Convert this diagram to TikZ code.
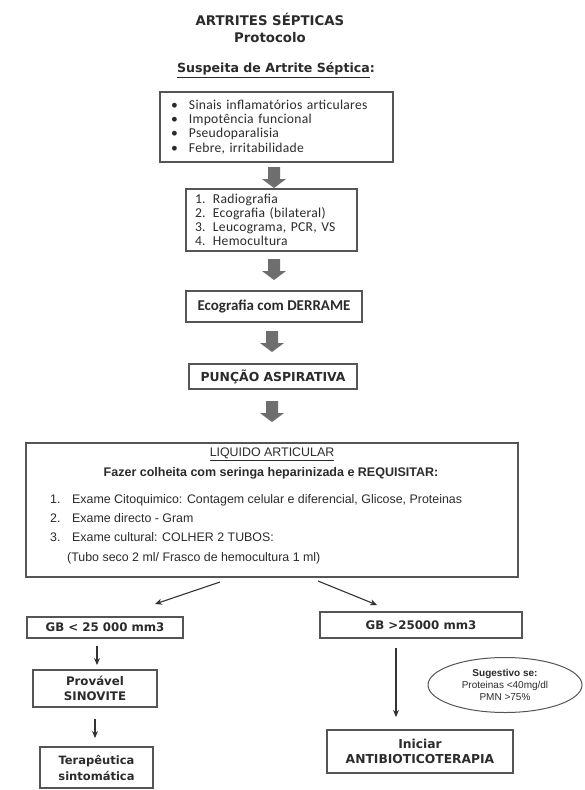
\documentclass[tikz,border=0pt]{standalone}
\usepackage{fontspec}
\setmainfont{DejaVu Sans}
\newfontfamily\verd{DejaVu Sans}
\newfontfamily\calib[LetterSpace=2]{Carlito}
\newfontfamily\calibb{Carlito}
\newfontfamily\arialf{Liberation Sans}
\usetikzlibrary{arrows.meta,shapes.geometric}
\definecolor{txt}{HTML}{2B2B2B}
\definecolor{boxc}{HTML}{555555}
\definecolor{arrc}{HTML}{6E6E6E}
\definecolor{linec}{HTML}{333333}
\tikzset{
 box/.style={draw=boxc, line width=1.3pt, fill=white, text=txt, inner sep=0pt},
 vb/.style={font=\verd\bfseries\fontsize{11.8}{15}\selectfont, align=center, text=txt},
 ar/.style={font=\arialf\fontsize{12.4}{15}\selectfont, text=txt, inner sep=0pt},
 conn/.style={draw=linec, line width=1.1pt, -{Stealth[length=7pt,width=6pt]}},
 blockarrow/.pic={\fill[arrc] (-6,0) -- (6,0) -- (6,12) -- (12,12) -- (0,21) -- (-12,12) -- (-6,12) -- cycle;}
}
\begin{document}
\begin{tikzpicture}[x=1pt,y=-1pt]
\useasboundingbox[fill=white] (0,0) rectangle (584,790);

% titles
\node[font=\verd\bfseries\fontsize{13.3}{17}\selectfont, align=center, text=txt] (title) at (270,28) {ARTRITES SÉPTICAS\\Protocolo};
\node[font=\verd\bfseries\fontsize{12.6}{15}\selectfont, text=txt] (susp) at (276,70) {\underline{Suspeita de Artrite Séptica}:};

% box 1
\node[box, minimum width=233pt, minimum height=70pt, text width=211pt, align=left,
      font=\calib\fontsize{13.6}{14.2}\selectfont] (b1) at (276.5,127)
 {\makebox[18pt][l]{•}Sinais inflamatórios articulares\\
  \makebox[18pt][l]{•}Impotência funcional\\
  \makebox[18pt][l]{•}Pseudoparalisia\\
  \makebox[18pt][l]{•}Febre, irritabilidade};
\pic at (274,167) {blockarrow};

% box 2
\node[box, minimum width=171pt, minimum height=62pt, text width=153pt, align=left,
      font=\calib\fontsize{13.6}{14}\selectfont] (b2) at (271.5,220)
 {\makebox[18pt][l]{1.}Radiografia\\
  \makebox[18pt][l]{2.}Ecografia (bilateral)\\
  \makebox[18pt][l]{3.}Leucograma, PCR, VS\\
  \makebox[18pt][l]{4.}Hemocultura};
\pic at (274,259) {blockarrow};

% box 3
\node[box, minimum width=176pt, minimum height=31pt, font=\calibb\bfseries\fontsize{15}{15}\selectfont] (b3) at (274,306.5) {Ecografia com DERRAME};
\pic at (272,331) {blockarrow};

% box 4
\node[box, minimum width=168pt, minimum height=25pt, vb, font=\verd\bfseries\fontsize{12.4}{15}\selectfont] (b4) at (273,376.5) {PUNÇÃO ASPIRATIVA};
\pic at (272,401) {blockarrow};

% liquido articular
\node[box, minimum width=492pt, minimum height=134pt] (liq) at (272,510) {};
\node[ar, anchor=base] (liqt) at (272,456.5) {\underline{LIQUIDO ARTICULAR}};
\node[ar, anchor=base, font=\arialf\bfseries\fontsize{12.5}{15}\selectfont] (faz) at (271,476.5) {Fazer colheita com seringa heparinizada e REQUISITAR:};
\node[ar, anchor=base west] (l1) at (50,503) {\makebox[22pt][l]{1.}Exame Citoquimico: Contagem celular e diferencial, Glicose, Proteinas};
\node[ar, anchor=base west] (l2) at (50,522) {\makebox[22pt][l]{2.}Exame directo - Gram};
\node[ar, anchor=base west] (l3) at (50,541.5) {\makebox[22pt][l]{3.}Exame cultural: COLHER 2 TUBOS:};
\node[ar, anchor=base west] (l4) at (67,561) {(Tubo seco 2 ml/ Frasco de hemocultura 1 ml)};

% bottom left
\node[box, vb, minimum width=156pt, minimum height=21pt] (gb1) at (105,627.5) {GB < 25 000 mm3};
\node[box, vb, minimum width=124pt, minimum height=37pt] (prov) at (95,688.5) {Provável\\SINOVITE};
\node[box, vb, minimum width=113pt, minimum height=41pt, font=\verd\bfseries\fontsize{11.5}{16}\selectfont] (tera) at (96.5,767.5) {Terapêutica\\sintomática};

% bottom right
\node[box, vb, minimum width=202pt, minimum height=26pt] (gb2) at (421,625) {GB >25000 mm3};
\node[draw=boxc, line width=1pt, ellipse, minimum width=154pt, minimum height=55pt, inner sep=0pt, align=center, text=txt,
      font=\arialf\fontsize{10}{12}\selectfont] (sug) at (505,685) {\textbf{Sugestivo se:}\\Proteinas <40mg/dl\\PMN >75\%};
\node[box, vb, minimum width=186pt, minimum height=43pt, font=\verd\bfseries\fontsize{12.3}{15}\selectfont] (inic) at (420,751.5) {Iniciar\\ANTIBIOTICOTERAPIA};

% connectors
\coordinate (a1s) at (220,582); \coordinate (a1e) at (155,604);
\coordinate (a2s) at (318,581); \coordinate (a2e) at (377,605);
\coordinate (a3s) at (97,646);  \coordinate (a3e) at (97,665);
\coordinate (a4s) at (95,719);  \coordinate (a4e) at (95,738);
\coordinate (a5s) at (396,648); \coordinate (a5e) at (396,717);
\draw[conn] (a1s) -- (a1e);
\draw[conn] (a2s) -- (a2e);
\draw[conn] (a3s) -- (a3e);
\draw[conn] (a4s) -- (a4e);
\draw[conn] (a5s) -- (a5e);
\end{tikzpicture}
\end{document}
